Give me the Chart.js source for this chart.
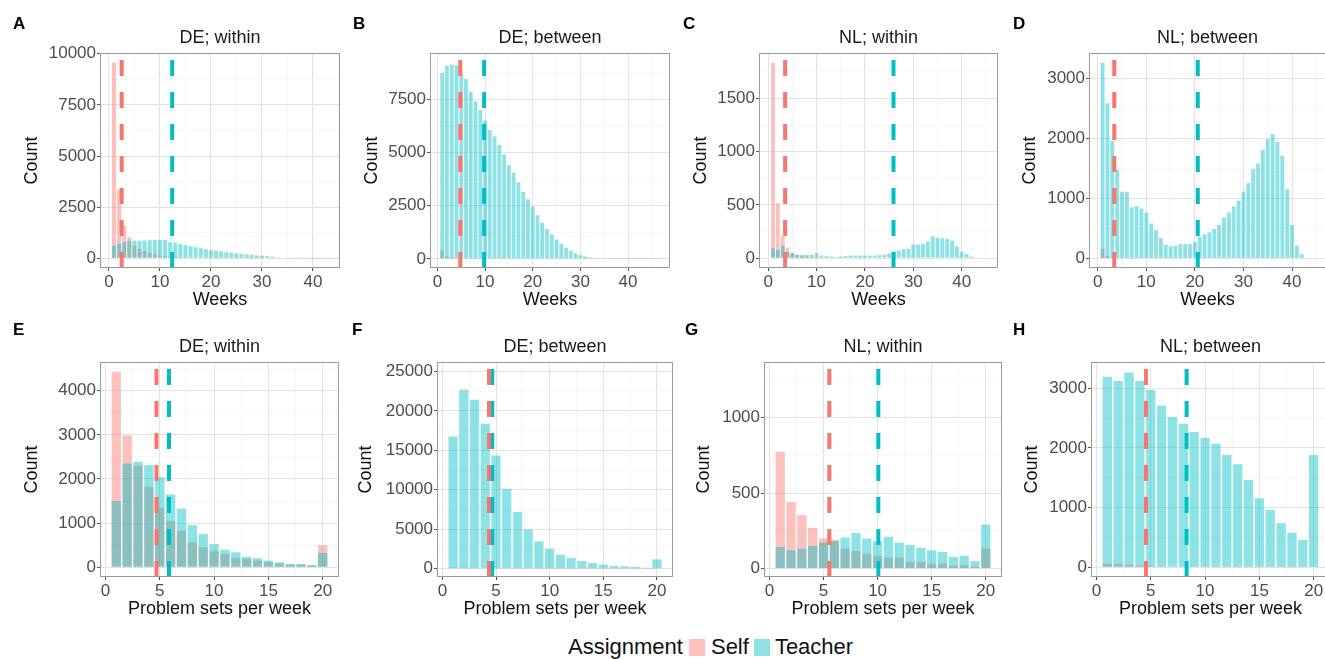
<!DOCTYPE html>
<html>
<head>
<meta charset="utf-8">
<script src="https://cdn.jsdelivr.net/npm/chart.js@4.4.1/dist/chart.umd.min.js"></script>
<style>
  body { margin: 0; width: 1325px; height: 659px; background: #fff; position: relative; overflow: hidden;
         font-family: "Liberation Sans", Arial, Helvetica, sans-serif; }
  canvas { position: absolute; }
  .tag { position: absolute; font-weight: bold; font-size: 17px; line-height: 17px; color: #000; }
  #legend { position: absolute; left: 568px; top: 634px; height: 26px; display: flex; align-items: center;
            font-size: 22px; color: #111; }
  .sw { display: inline-block; width: 16px; height: 17px; }
</style>
</head>
<body>
<div id="legend">
  <span>Assignment</span>
  <span class="sw" style="background:rgba(248,118,109,0.45);margin-left:6px;margin-right:6px"></span>
  <span>Self</span>
  <span class="sw" style="background:rgba(0,191,196,0.45);margin-left:5px;margin-right:5px"></span>
  <span>Teacher</span>
</div>
<script>
// ---- data: weeks active (top row), counts for week 1..n ----
const deWithinWeeksSelf = [9560, 3370, 1590, 1020, 600, 460, 350, 260, 190, 140, 110, 90, 70, 55, 45, 35, 28, 22, 17, 13, 10, 8, 6, 5, 4, 3, 2, 2, 1, 1];
const deWithinWeeksTeacher = [615, 720, 800, 850, 860, 860, 870, 880, 890, 900, 900, 780, 760, 700, 640, 590, 540, 490, 440, 400, 365, 330, 295, 265, 235, 210, 185, 165, 145, 125, 105, 80, 40, 20, 12, 8, 5, 4, 3, 2, 2, 1, 1, 30, 20];
const deBetweenWeeksSelf = [400, 120, 60, 30, 20, 12, 8, 5, 3, 2];
const deBetweenWeeksTeacher = [8730, 9060, 9130, 9100, 8700, 8450, 7850, 7400, 6990, 6500, 6050, 5750, 5350, 4900, 4400, 4050, 3600, 3150, 2800, 2450, 2050, 1700, 1400, 1150, 900, 700, 520, 380, 260, 170, 110, 70, 45, 28, 18, 10, 6, 4, 3, 2, 1, 1, 1, 1, 1, 1];
const nlWithinWeeksSelf = [1834, 515, 210, 100, 50, 30, 20, 15, 10, 8, 6, 5, 4, 3, 2];
const nlWithinWeeksTeacher = [94, 78, 118, 56, 47, 31, 31, 31, 31, 47, 25, 19, 16, 9, 16, 19, 25, 25, 25, 25, 25, 25, 28, 34, 44, 62, 72, 84, 87, 128, 128, 134, 156, 206, 193, 187, 181, 165, 109, 62, 40, 16];
const nlBetweenWeeksSelf = [160, 40, 20, 10, 5, 3, 2, 1];
const nlBetweenWeeksTeacher = [3261, 2585, 1960, 1480, 1109, 1109, 850, 870, 830, 760, 580, 470, 340, 230, 200, 210, 235, 240, 235, 275, 360, 400, 433, 488, 555, 682, 765, 865, 960, 1109, 1253, 1486, 1580, 1808, 1985, 2068, 1941, 1708, 1153, 555, 210, 72];

// ---- data: problem sets per week (bottom row), bins 1..20 ----
const deWithinSetsSelf = [4428, 2987, 2300, 1824, 1351, 1051, 826, 563, 450, 360, 300, 210, 188, 150, 113, 90, 60, 60, 38, 503];
const deWithinSetsTeacher = [1500, 2349, 2386, 2311, 2041, 1651, 1328, 953, 750, 525, 398, 338, 240, 203, 150, 113, 75, 75, 53, 323];
const deBetweenSetsSelf = [150, 120, 90, 60, 40, 30, 20, 15, 10, 8, 6, 5, 4, 3, 2, 2, 1, 1, 1, 10];
const deBetweenSetsTeacher = [16765, 22677, 21410, 18370, 14360, 10135, 7180, 4983, 3463, 2534, 1774, 1351, 971, 718, 507, 338, 296, 211, 127, 1182];
const nlWithinSetsSelf = [773, 441, 353, 269, 199, 190, 132, 117, 95, 82, 73, 71, 44, 44, 29, 33, 18, 22, 11, 132];
const nlWithinSetsTeacher = [143, 121, 132, 150, 172, 183, 205, 236, 199, 181, 210, 172, 155, 137, 121, 110, 77, 84, 49, 291];
const nlBetweenSetsSelf = [55, 55, 40, 30, 20, 15, 10, 8, 5, 4, 3, 3, 2, 2, 1, 1, 1, 1, 1, 5];
const nlBetweenSetsTeacher = [3194, 3122, 3267, 3122, 2972, 2706, 2517, 2406, 2267, 2167, 2072, 1883, 1728, 1461, 1156, 961, 739, 578, 456, 1883];

// means (dashed lines), panels in order DE within, DE between, NL within, NL between
const weeksMeanSelf = [2.5, 4.8, 3.5, 3.4];
const weeksMeanTeacher = [12.4, 9.8, 25.9, 20.6];
const setsMeanSelf = [4.7, 4.35, 5.54, 4.56];
const setsMeanTeacher = [5.85, 4.65, 10.07, 8.3];

const panelTitles = ["DE; within", "DE; between", "NL; within", "NL; between"];
const panelTags = ["A", "B", "C", "D", "E", "F", "G", "H"];

// tick labels
const countTicks = [
  [0, 2500, 5000, 7500, 10000], [0, 2500, 5000, 7500], [0, 500, 1000, 1500], [0, 1000, 2000, 3000],
  [0, 1000, 2000, 3000, 4000], [0, 5000, 10000, 15000, 20000, 25000], [0, 500, 1000], [0, 1000, 2000, 3000]
];
const weekTicks = [0, 10, 20, 30, 40];
const setTicks = [0, 5, 10, 15, 20];

// ---- layout (pixels / axis limits) ----
const AXIS_W = 84, TITLE_H = 32, XAXIS_H = 43;
const layout = [
  { rect: [100, 53, 340, 268], x: [-1.75, 45.3], y: [-478, 10038], countOff: 68 },
  { rect: [430, 53, 670, 268], x: [-1.55, 48.8], y: [-430, 9670], countOff: 57.5 },
  { rect: [759, 53, 998, 268], x: [-1.9, 47.5], y: [-92, 1926], countOff: 57.5 },
  { rect: [1089, 53, 1326, 268], x: [-1.8, 47.0], y: [-160, 3420], countOff: 58.5 },
  { rect: [100, 362, 339, 577], x: [-0.5, 21.5], y: [-221, 4650], countOff: 67.5 },
  { rect: [437, 362, 673, 577], x: [-0.5, 21.5], y: [-1060, 26200], countOff: 71.3 },
  { rect: [764, 362, 1002, 577], x: [-0.5, 21.5], y: [-56, 1368], countOff: 59.5 },
  { rect: [1091, 362, 1330, 577], x: [-0.5, 21.5], y: [-164, 3441], countOff: 58.5 }
];
const tagPos = [[13, 15], [353, 15], [683, 15], [1013, 15], [13, 321], [352, 321], [685, 321], [1013, 321]];

const SELF = "#F8766D", TEACHER = "#00BFC4";
const SELF_FILL = "rgba(248,118,109,0.45)", TEACHER_FILL = "rgba(0,191,196,0.45)";

Chart.defaults.font.family = '"Liberation Sans", Arial, Helvetica, sans-serif';

const frame = {
  id: "frame",
  afterDatasetsDraw(chart) {
    const { ctx, chartArea: a } = chart;
    ctx.save();
    ctx.strokeStyle = "#9a9a9a";
    ctx.lineWidth = 1;
    ctx.strokeRect(Math.round(a.left) + 0.5, Math.round(a.top) + 0.5,
                   Math.round(a.right - a.left) - 1, Math.round(a.bottom - a.top) - 1);
    ctx.restore();
  }
};

function halfSteps(majors, lo, hi) {
  const step = majors[1] - majors[0];
  const out = [];
  for (let v = majors[0] - step / 2; v <= hi; v += step) if (v >= lo) out.push(v);
  return out;
}

function axisCfg(majors, range, extra) {
  const minors = halfSteps(majors, range[0], range[1]);
  const isMajor = v => majors.includes(v);
  return Object.assign({
    type: "linear",
    min: range[0],
    max: range[1],
    offset: false,
    afterBuildTicks: s => { s.ticks = majors.concat(minors).map(v => ({ value: v })); },
    ticks: {
      autoSkip: false, maxRotation: 0, padding: 1, color: "#4D4D4D", font: { size: 17 },
      callback: v => (isMajor(v) ? String(v) : "")
    },
    grid: {
      offset: false,
      drawTicks: true,
      tickLength: 3,
      color: c => (c.tick && isMajor(c.tick.value) ? "#E3E3E3" : "#F2F2F2"),
      lineWidth: c => (c.tick && isMajor(c.tick.value) ? 1 : 0.7),
      tickColor: c => (c.tick && isMajor(c.tick.value) ? "#555" : "rgba(0,0,0,0)")
    },
    border: { display: false }
  }, extra);
}

function makePanel(i, self, teacher, meanSelf, meanTeacher, title, xTicks, xLabel, barPct) {
  const L = layout[i];
  const [l, t, r, b] = L.rect;
  const w = AXIS_W + (r - l), h = TITLE_H + (b - t) + XAXIS_H;
  const canvas = document.createElement("canvas");
  canvas.width = w; canvas.height = h;
  canvas.style.left = (l - AXIS_W) + "px";
  canvas.style.top = (t - TITLE_H) + "px";
  canvas.style.width = w + "px"; canvas.style.height = h + "px";
  document.body.appendChild(canvas);

  const tag = document.createElement("div");
  tag.className = "tag";
  tag.textContent = panelTags[i];
  tag.style.left = tagPos[i][0] + "px";
  tag.style.top = tagPos[i][1] + "px";
  document.body.appendChild(tag);

  const toXY = arr => arr.map((v, k) => ({ x: k + 1, y: v }));
  const vline = (m, color) => ({
    type: "line", data: [{ x: m, y: L.y[0] }, { x: m, y: L.y[1] }],
    borderColor: color, borderWidth: 4, borderDash: [16, 16], pointRadius: 0, order: 0, tension: 0
  });

  new Chart(canvas, {
    type: "bar",
    data: {
      datasets: [
        { label: "Self", data: toXY(self), backgroundColor: SELF_FILL, order: 2, grouped: false,
          barPercentage: barPct, categoryPercentage: 1 },
        { label: "Teacher", data: toXY(teacher), backgroundColor: TEACHER_FILL, order: 1, grouped: false,
          barPercentage: barPct, categoryPercentage: 1 },
        vline(meanSelf, SELF),
        vline(meanTeacher, TEACHER)
      ]
    },
    options: {
      responsive: false,
      animation: false,
      devicePixelRatio: 1,
      events: [],
      layout: { padding: 0 },
      plugins: {
        legend: { display: false },
        tooltip: { enabled: false },
        title: {
          display: true, text: title, fullSize: false, color: "#1a1a1a",
          font: { size: 18, weight: "normal", lineHeight: "22px" }, padding: { top: 6, bottom: 4 }
        }
      },
      scales: {
        x: axisCfg(xTicks, L.x, {
          title: { display: true, text: xLabel, color: "#111", font: { size: 18 }, padding: { top: 0, bottom: 0 } },
          afterFit: s => { s.height = XAXIS_H; }
        }),
        y: axisCfg(countTicks[i], L.y, {
          title: { display: true, text: "Count", color: "#111", font: { size: 18 },
                   padding: { top: AXIS_W - 10.8 - L.countOff, bottom: 0 } },
          afterFit: s => { s.width = AXIS_W; }
        })
      }
    },
    plugins: [frame]
  });
}

makePanel(0, deWithinWeeksSelf, deWithinWeeksTeacher, weeksMeanSelf[0], weeksMeanTeacher[0], panelTitles[0], weekTicks, "Weeks", 0.8);
makePanel(1, deBetweenWeeksSelf, deBetweenWeeksTeacher, weeksMeanSelf[1], weeksMeanTeacher[1], panelTitles[1], weekTicks, "Weeks", 0.8);
makePanel(2, nlWithinWeeksSelf, nlWithinWeeksTeacher, weeksMeanSelf[2], weeksMeanTeacher[2], panelTitles[2], weekTicks, "Weeks", 0.8);
makePanel(3, nlBetweenWeeksSelf, nlBetweenWeeksTeacher, weeksMeanSelf[3], weeksMeanTeacher[3], panelTitles[3], weekTicks, "Weeks", 0.8);
makePanel(4, deWithinSetsSelf, deWithinSetsTeacher, setsMeanSelf[0], setsMeanTeacher[0], panelTitles[0], setTicks, "Problem sets per week", 0.86);
makePanel(5, deBetweenSetsSelf, deBetweenSetsTeacher, setsMeanSelf[1], setsMeanTeacher[1], panelTitles[1], setTicks, "Problem sets per week", 0.86);
makePanel(6, nlWithinSetsSelf, nlWithinSetsTeacher, setsMeanSelf[2], setsMeanTeacher[2], panelTitles[2], setTicks, "Problem sets per week", 0.86);
makePanel(7, nlBetweenSetsSelf, nlBetweenSetsTeacher, setsMeanSelf[3], setsMeanTeacher[3], panelTitles[3], setTicks, "Problem sets per week", 0.86);
</script>
</body>
</html>
